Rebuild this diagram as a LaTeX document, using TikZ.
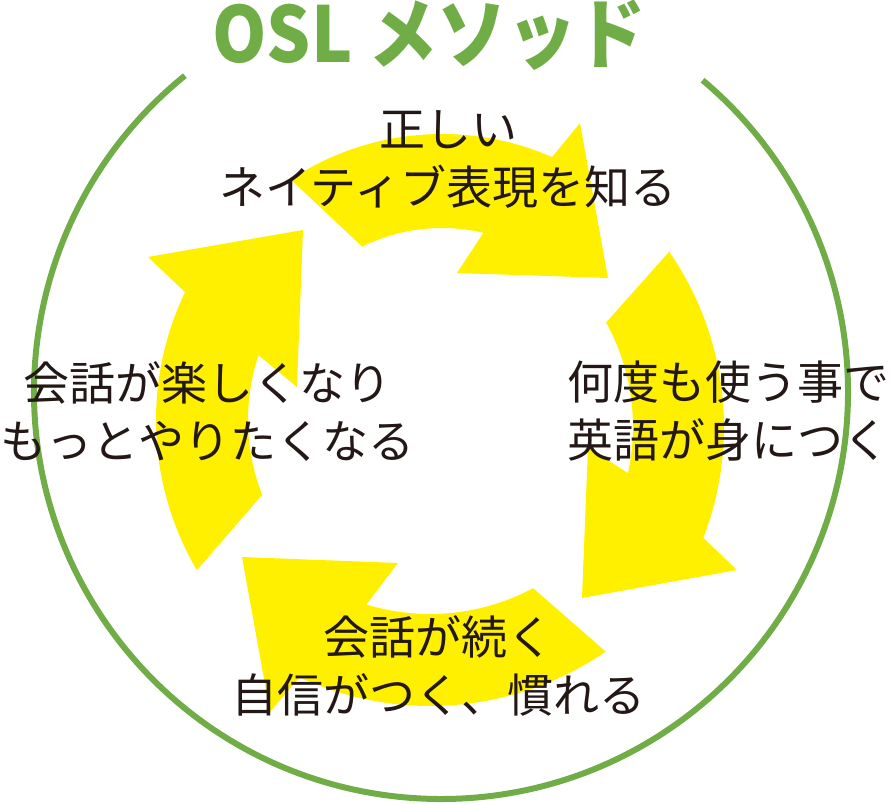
\documentclass[tikz,border=0pt]{standalone}
\usepackage{fontspec}
\newfontfamily\jpfont{Noto Sans CJK JP}
\newfontfamily\jptitle[FakeStretch=0.9]{Noto Sans CJK JP}
\usetikzlibrary{calc}
\definecolor{oslgreen}{RGB}{112,173,71}
\definecolor{cycleyellow}{RGB}{255,240,0}
\definecolor{inkblack}{RGB}{35,24,21}

\begin{document}
\begin{tikzpicture}[x=1pt, y=1pt,
                      arrowpart/.style={fill=cycleyellow},
                      steptext/.style={text=inkblack, font=\jpfont\fontsize{46}{58}\selectfont, align=center, inner sep=0pt},
                      titletext/.style={text=oslgreen, font=\jptitle\bfseries\fontsize{77}{80}\selectfont, inner sep=0pt},
                      ring/.style={draw=oslgreen, line width=6pt},
                  ]
                  \useasboundingbox (0,0) rectangle (894,804);

                  %Centres
                  \coordinate (ring_c)   at (441,412);
                  \coordinate (top_c)    at (442,396);
                  \coordinate (right_c)  at (416,377);
                  \coordinate (bottom_c) at (430,409);
                  \coordinate (left_c)   at (452,384);

                  %Arrows
                  \fill[arrowpart] ($(top_c)+(123.5:274)$) arc[start angle=123.5, end angle=66.3, radius=274]
                      -- (580,681) -- (608,526) -- (457,531) -- ($(top_c)+(76.7:180)$)
                      arc[start angle=76.7, end angle=116.3, radius=180] -- cycle;
                  \fill[arrowpart] ($(right_c)+(34.7:308)$) arc[start angle=34.7, end angle=-21.1, radius=308]
                      -- (737,234) -- (582,206) -- (588,357) -- ($(right_c)+(-12.3:217)$)
                      arc[start angle=-12.3, end angle=28.8, radius=217] -- cycle;
                  \fill[arrowpart] ($(bottom_c)+(-55.6:311)$) arc[start angle=-55.6, end angle=-114.8, radius=311]
                      -- (270,92) -- (242,247) -- (398,241) -- ($(bottom_c)+(-106.9:219)$)
                      arc[start angle=-106.9, end angle=-61.9, radius=219] -- cycle;
                  \fill[arrowpart] ($(left_c)+(210.5:296)$) arc[start angle=210.5, end angle=154.4, radius=296]
                      -- (148,547) -- (303,574) -- (297,417) -- ($(left_c)+(161.5:204)$)
                      arc[start angle=161.5, end angle=201.5, radius=204] -- cycle;

                  %Ring
                  \draw[ring] ($(ring_c)+(129:407)$) arc[start angle=129, end angle=410, radius=407];

                  %Nodes
                  \node[titletext, anchor=base] (title) at (429,741) {OSL メソッド};
                  \node[steptext]  (know)   at (448,644) {正しい\\ネイティブ表現を知る};
                  \node[steptext, align=left] (use) at (728,393) {何度も使う事で\\英語が身につく};
                  \node[steptext]  (habit)  at (438,138) {会話が続く\\自信がつく、慣れる};
                  \node[steptext]  (enjoy)  at (208,392) {会話が楽しくなり\\もっとやりたくなる};
\end{tikzpicture}
\end{document}
